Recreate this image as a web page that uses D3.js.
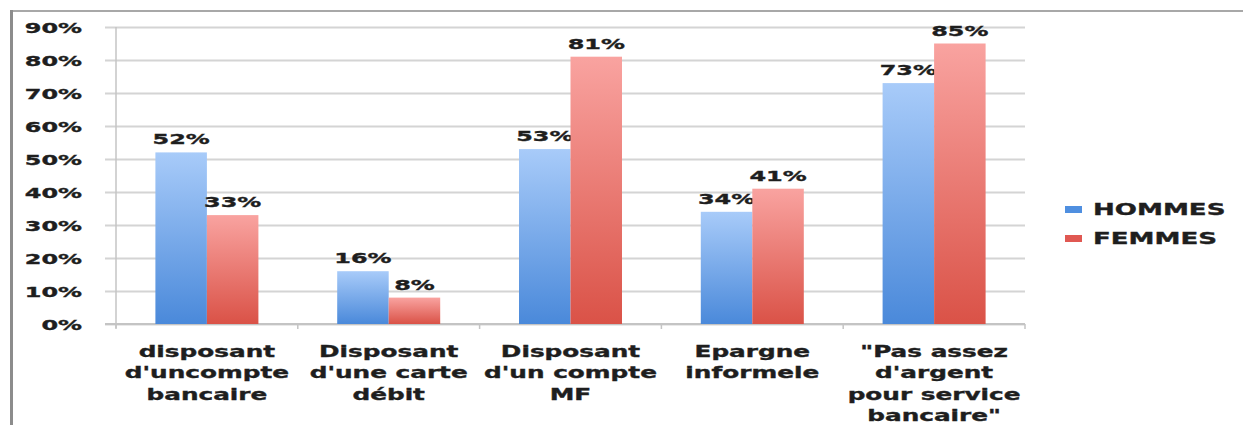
<!DOCTYPE html>
<html>
<head>
<meta charset="utf-8">
<script src="https://cdn.jsdelivr.net/npm/d3@7"></script>
<style>
  body { margin: 0; background: #fff; }
  text { font-family: "DejaVu Sans", Verdana, sans-serif; font-weight: bold; fill: #1e1e1e; stroke: #1e1e1e; stroke-width: 0.35px; }
</style>
</head>
<body>
<script>
var categories = [
  "disposant|d'uncompte|bancaire",
  "Disposant|d'une carte|débit",
  "Disposant|d'un compte|MF",
  "Epargne|informele",
  "\"Pas assez|d'argent|pour service|bancaire\""
];
var seriesNames = ["HOMMES", "FEMMES"];
var hommes = [0.52, 0.16, 0.53, 0.34, 0.73];
var femmes = [0.33, 0.08, 0.81, 0.41, 0.85];
var yTicks = [0, 0.1, 0.2, 0.3, 0.4, 0.5, 0.6, 0.7, 0.8, 0.9];

var width = 1243, height = 425;
var stretch = 1.65; // the picture is stretched sideways

var svg = d3.select('body').append('svg')
  .attr('width', width)
  .attr('height', height);

// gradients for the bars
var defs = svg.append('defs');
var gradColors = [["#a8cbf9", "#4a89da"], ["#f9a3a0", "#da5247"]];
gradColors.forEach(function(c, i) {
  var g = defs.append('linearGradient')
    .attr('id', 'grad' + i)
    .attr('x1', 0).attr('y1', 0).attr('x2', 0).attr('y2', 1);
  g.append('stop').attr('offset', '0%').attr('stop-color', c[0]);
  g.append('stop').attr('offset', '100%').attr('stop-color', c[1]);
});

// frame
svg.append('line').attr('x1', 11).attr('y1', 11).attr('x2', width).attr('y2', 11)
  .attr('stroke', '#a8a8a8').attr('stroke-width', 2);
svg.append('line').attr('x1', 11.5).attr('y1', 10).attr('x2', 11.5).attr('y2', height)
  .attr('stroke', '#8c8c8c').attr('stroke-width', 3);

var x = d3.scaleBand()
  .domain(d3.range(categories.length))
  .range([116, 1025])
  .padding(0);

var xs = d3.scaleBand()
  .domain([0, 1])
  .range([0, x.bandwidth()])
  .paddingInner(0)
  .paddingOuter(0.765);

var y = d3.scaleLinear()
  .domain([0, 0.9])
  .range([324, 27]);

// y axis with grid
var yAxis = svg.append('g')
  .attr('transform', 'translate(116,0)')
  .call(d3.axisLeft(y).tickValues(yTicks).tickFormat(d3.format('.0%')).tickSize(-909).tickPadding(0));
yAxis.select('.domain').remove();
yAxis.selectAll('.tick line')
  .attr('x1', -11)
  .attr('stroke', '#d4d4d4')
  .attr('stroke-width', 2);
yAxis.selectAll('.tick text')
  .attr('x', 0)
  .attr('dy', '0.36em')
  .attr('transform', 'translate(-34,0) scale(' + stretch + ',1)')
  .style('font-size', '14.5px')
  .attr('font-family', null)
  .attr('fill', null);

svg.append('line')
  .attr('x1', 116).attr('x2', 116)
  .attr('y1', y(0.9)).attr('y2', y(0) + 4)
  .attr('stroke', '#c4c4c4').attr('stroke-width', 1.5);

// x axis baseline and boundary ticks
svg.append('line')
  .attr('x1', 105).attr('x2', 1025)
  .attr('y1', y(0)).attr('y2', y(0))
  .attr('stroke', '#c4c4c4').attr('stroke-width', 2);
var bounds = d3.range(categories.length + 1).map(function(i) {
  return i < categories.length ? x(i) : x(i - 1) + x.bandwidth();
});
svg.selectAll('.xtick').data(bounds).enter().append('line')
  .attr('class', 'xtick')
  .attr('x1', function(d) { return d; }).attr('x2', function(d) { return d; })
  .attr('y1', y(0)).attr('y2', y(0) + 5)
  .attr('stroke', '#c4c4c4').attr('stroke-width', 1.5);

// bars
var series = [hommes, femmes];
series.forEach(function(vals, s) {
  var g = svg.append('g');
  g.selectAll('rect').data(vals).enter().append('rect')
    .attr('x', function(d, i) { return x(i) + xs(s); })
    .attr('y', function(d) { return y(d); })
    .attr('width', xs.bandwidth())
    .attr('height', function(d) { return y(0) - y(d); })
    .attr('fill', 'url(#grad' + s + ')');
  g.selectAll('text').data(vals).enter().append('text')
    .attr('transform', function(d, i) {
      return 'translate(' + (x(i) + xs(s) + xs.bandwidth() / 2) + ',' + (y(d) - 8) + ') scale(' + stretch + ',1)';
    })
    .attr('text-anchor', 'middle')
    .style('font-size', '14.5px')
    .text(function(d) { return Math.round(d * 100) + '%'; });
});

// category labels
categories.forEach(function(c, i) {
  var lines = c.split('|');
  lines.forEach(function(line, j) {
    svg.append('text')
      .attr('transform', 'translate(' + (x(i) + x.bandwidth() / 2) + ',' + (357 + j * 21.3) + ') scale(' + stretch + ',1)')
      .attr('text-anchor', 'middle')
      .style('font-size', '15px')
      .text(line);
  });
});

// legend
var legendColors = ["#4f8fe0", "#e05852"];
seriesNames.forEach(function(name, i) {
  var ly = 215 + i * 29;
  svg.append('rect')
    .attr('x', 1065).attr('y', ly - 9)
    .attr('width', 17).attr('height', 7)
    .attr('fill', legendColors[i]);
  svg.append('text')
    .attr('transform', 'translate(1093,' + ly + ') scale(1.63,1)')
    .style('font-size', '16px')
    .text(name);
});
</script>
</body>
</html>
